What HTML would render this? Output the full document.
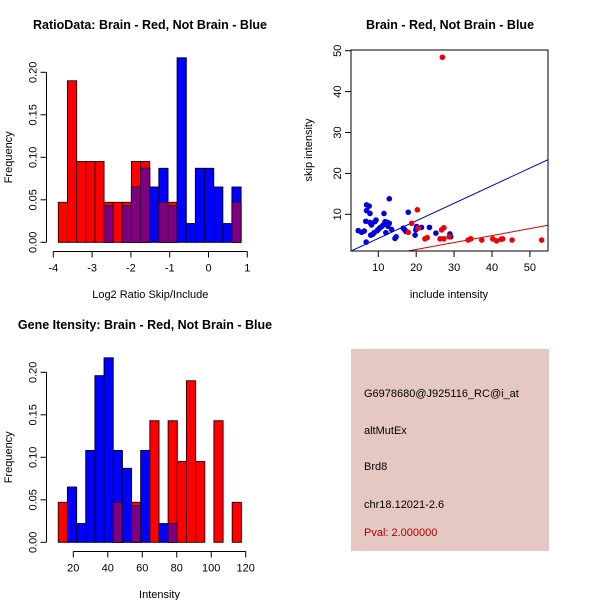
<!DOCTYPE html>
<html><head><meta charset="utf-8"><style>
html,body{margin:0;padding:0;background:#fff}
svg{display:block;font-family:"Liberation Sans",sans-serif}
</style></head><body>
<svg id="root" width="600" height="600" viewBox="0 0 600 600"></svg>
<script>
// ---- Data: Ratio histogram ----
const ratioStart = -3.87;
const ratioBinWidth = 0.2355;
const ratioRed = [0.047,0.19,0.095,0.095,0.095,0.047,0.047,0.047,0.095,0.095,0,0.047,0.047,0,0,0,0,0,0,0.047];
const ratioBlue = [0,0,0,0,0,0.043,0,0.043,0.065,0.087,0.065,0.087,0.043,0.217,0.022,0.087,0.087,0.065,0.022,0.065];
const ratioXTicks = [-4,-3,-2,-1,0,1];
const freqTicks = [0,0.05,0.10,0.15,0.20];
const freqTickLabels = ["0.00","0.05","0.10","0.15","0.20"];
// ---- Data: Intensity histogram ----
const intStart = 11.3;
const intBinWidth = 5.31;
const intRed = [0.047,0,0,0,0,0,0.047,0,0.047,0,0.143,0,0.143,0.095,0.19,0.095,0,0.143,0,0.047];
const intBlue = [0,0.065,0.022,0.108,0.196,0.217,0.108,0.087,0.043,0.108,0,0.022,0.022,0,0,0,0,0,0,0];
const intXTicks = [20,40,60,80,100,120];
// ---- Data: Scatter ----
const blueX = [4.7,5.6,6.3,6.7,6.8,6.9,6.9,7.6,7.8,7.8,8.0,8.2,8.5,8.9,9.1,9.4,9.7,10,10.4,10.9,11.3,11.5,11.8,12.0,12.4,12.5,12.9,12.9,13.5,14.4,14.7,16.6,17.0,17.3,17.9,19.7,19.9,20.1,21.4,23.5,25.2,28.9,29.1];
const blueY = [6.0,5.6,5.9,8.3,3.2,12.3,10.9,12.0,10.2,8.0,4.9,7.4,5.1,5.5,8.2,8.6,6.0,6.3,6.7,7.0,7.4,10.2,8.2,5.5,8.0,7.1,13.8,7.8,6.3,4.1,4.5,6.6,6.2,5.8,10.5,4.9,6.2,7.0,6.8,6.8,5.4,5.2,4.5];
const redX = [26.9,17.9,18.8,20.3,20.5,22.3,22.9,26.3,26.7,27.3,27.3,28.7,33.7,34.4,37.3,40.2,41.2,42.4,42.8,45.3,53.1];
const redY = [48.4,5.6,7.8,11.1,6.6,4.0,4.3,4.0,6.2,6.7,4.0,4.5,3.7,4.0,3.7,4.0,3.5,3.9,4.0,3.7,3.7];
const blueLine = [0.43,-0.2]; // slope, intercept
const redLine = [0.17,-2.0];
const scatXTicks = [10,20,30,40,50];
const scatYTicks = [10,20,30,40,50];

const NS="http://www.w3.org/2000/svg";
const root=document.getElementById('root');
function mk(tag,attrs,parent,text){const e=document.createElementNS(NS,tag);for(const k in attrs)e.setAttribute(k,attrs[k]);if(text!==undefined)e.textContent=text;(parent||root).appendChild(e);return e;}

function histogram(name,title,titleX,titleY,xLab,start,bw,red,blue,xTicks,xmap,ymap,axisY,axisX,xLabY){
  const g=mk('g',{});
  
  
  const t=mk('text',{x:titleX,y:titleY,'text-anchor':'middle','font-weight':'bold','font-size':'12.5'},g,title);
  
  
  for(let i=0;i<red.length;i++){
    const x0=xmap(start+i*bw),x1=xmap(start+(i+1)*bw);
    const r=red[i],b=blue[i],m=Math.min(r,b);
    if(r>0){const e=mk('rect',{x:x0,y:ymap(r),width:x1-x0,height:ymap(0)-ymap(r),fill:'#ff0000',stroke:'#3a0000','stroke-width':1},g);
      
      }
    if(b>0){const e=mk('rect',{x:x0,y:ymap(b),width:x1-x0,height:ymap(0)-ymap(b),fill:'#0000ff',stroke:'#00003a','stroke-width':1},g);
      
      }
    if(m>0){const e=mk('rect',{x:x0,y:ymap(m),width:x1-x0,height:ymap(0)-ymap(m),fill:'#7f007f',stroke:'#3a003a','stroke-width':1},g);
      
      }
  }
  // y axis
  const ya=mk('g',{},g);
  
  
  mk('line',{x1:axisX,x2:axisX,y1:ymap(0),y2:ymap(0.2),stroke:'#000'},ya);
  freqTicks.forEach((v,i)=>{const y=ymap(v);mk('line',{x1:axisX-6,x2:axisX,y1:y,y2:y,stroke:'#000'},ya);
    mk('text',{x:0,y:0,transform:`translate(${axisX-10},${y}) rotate(-90)`,'text-anchor':'middle','font-size':'11'},ya,freqTickLabels[i]);});
  const yt=mk('text',{x:0,y:0,transform:`translate(12,${ymap(0.1)}) rotate(-90)`,'text-anchor':'middle','font-size':'11'},g,'Frequency');
  
  
  // x axis
  const xa=mk('g',{},g);
  
  
  mk('line',{x1:xmap(xTicks[0]),x2:xmap(xTicks[xTicks.length-1]),y1:axisY,y2:axisY,stroke:'#000'},xa);
  xTicks.forEach(v=>{const x=xmap(v);mk('line',{x1:x,x2:x,y1:axisY,y2:axisY+6,stroke:'#000'},xa);
    mk('text',{x:x,y:axisY+20,'text-anchor':'middle','font-size':'11'},xa,String(v));});
  const xt=mk('text',{x:(xmap(xTicks[0])+xmap(xTicks[xTicks.length-1]))/2,y:xLabY,'text-anchor':'middle','font-size':'11'},g,xLab);
  
  
}

// top-left
const yTL=v=>242.3-v*850, xTL=v=>53.3+(v+4)*38.8;
histogram('ratio-histogram','RatioData: Brain - Red, Not Brain - Blue',150,29,'Log2 Ratio Skip/Include',ratioStart,ratioBinWidth,ratioRed,ratioBlue,ratioXTicks,xTL,yTL,251.5,46.5,298);
// bottom-left
const yBL=v=>542.3-v*850, xBL=v=>73.3+(v-20)*1.724;
histogram('intensity-histogram','Gene Itensity: Brain - Red, Not Brain - Blue',145,329,'Intensity',intStart,intBinWidth,intRed,intBlue,intXTicks,xBL,yBL,551.5,46.5,598);

// scatter
(function(){
  const g=mk('g',{});
  
  
  const xm=v=>378.3+(v-10)*3.79, ym=v=>214.3-(v-10)*4.09;
  const t=mk('text',{x:450,y:29,'text-anchor':'middle','font-weight':'bold','font-size':'12.5'},g,'Brain - Red, Not Brain - Blue');
  
  
  mk('defs',{},g).innerHTML='<clipPath id="cp"><rect x="351" y="50" width="197" height="201"/></clipPath>';
  const lines=mk('g',{'clip-path':'url(#cp)'},g);
  [[blueLine,'#0000cc','blue-fit-line'],[redLine,'#cc0000','red-fit-line']].forEach(([l,c,n])=>{
    const e=mk('line',{x1:xm(0),y1:ym(l[1]),x2:xm(60),y2:ym(l[0]*60+l[1]),stroke:c,'stroke-width':1},lines);
    
    
  });
  blueX.forEach((x,i)=>{const e=mk('circle',{cx:xm(x),cy:ym(blueY[i]),r:2.8,fill:'#0000dd'},lines);
    
    });
  redX.forEach((x,i)=>{const e=mk('circle',{cx:xm(x),cy:ym(redY[i]),r:2.8,fill:'#ee0000'},lines);
    
    });
  const box=mk('rect',{x:351,y:50,width:197,height:201,fill:'none',stroke:'#000'},g);
  
  
  const xa=mk('g',{},g);
  
  
  scatXTicks.forEach(v=>{const x=xm(v);mk('line',{x1:x,x2:x,y1:251,y2:257,stroke:'#000'},xa);
    mk('text',{x:x,y:271,'text-anchor':'middle','font-size':'11'},xa,String(v));});
  const ya=mk('g',{},g);
  
  
  scatYTicks.forEach(v=>{const y=ym(v);mk('line',{x1:345,x2:351,y1:y,y2:y,stroke:'#000'},ya);
    mk('text',{x:0,y:0,transform:`translate(341,${y}) rotate(-90)`,'text-anchor':'middle','font-size':'11'},ya,String(v));});
  const xt=mk('text',{x:449,y:298,'text-anchor':'middle','font-size':'11'},g,'include intensity');
  
  
  const yt=mk('text',{x:0,y:0,transform:'translate(312,150) rotate(-90)','text-anchor':'middle','font-size':'11'},g,'skip intensity');
  
  
})();
</script>
<svg style="position:absolute;left:0;top:0" width="600" height="600">
  <rect x="351" y="349" width="198" height="202" fill="#e6c8c2"/>
  <g font-family="Liberation Sans, sans-serif" font-size="11">
    <text x="364" y="397">G6978680@J925116_RC@i_at</text>
    <text x="364" y="434">altMutEx</text>
    <text x="364" y="470">Brd8</text>
    <text x="364" y="508">chr18.12021-2.6</text>
    <text x="364" y="536" fill="#aa0000">Pval: 2.000000</text>
  </g>
</svg>
</body></html>
